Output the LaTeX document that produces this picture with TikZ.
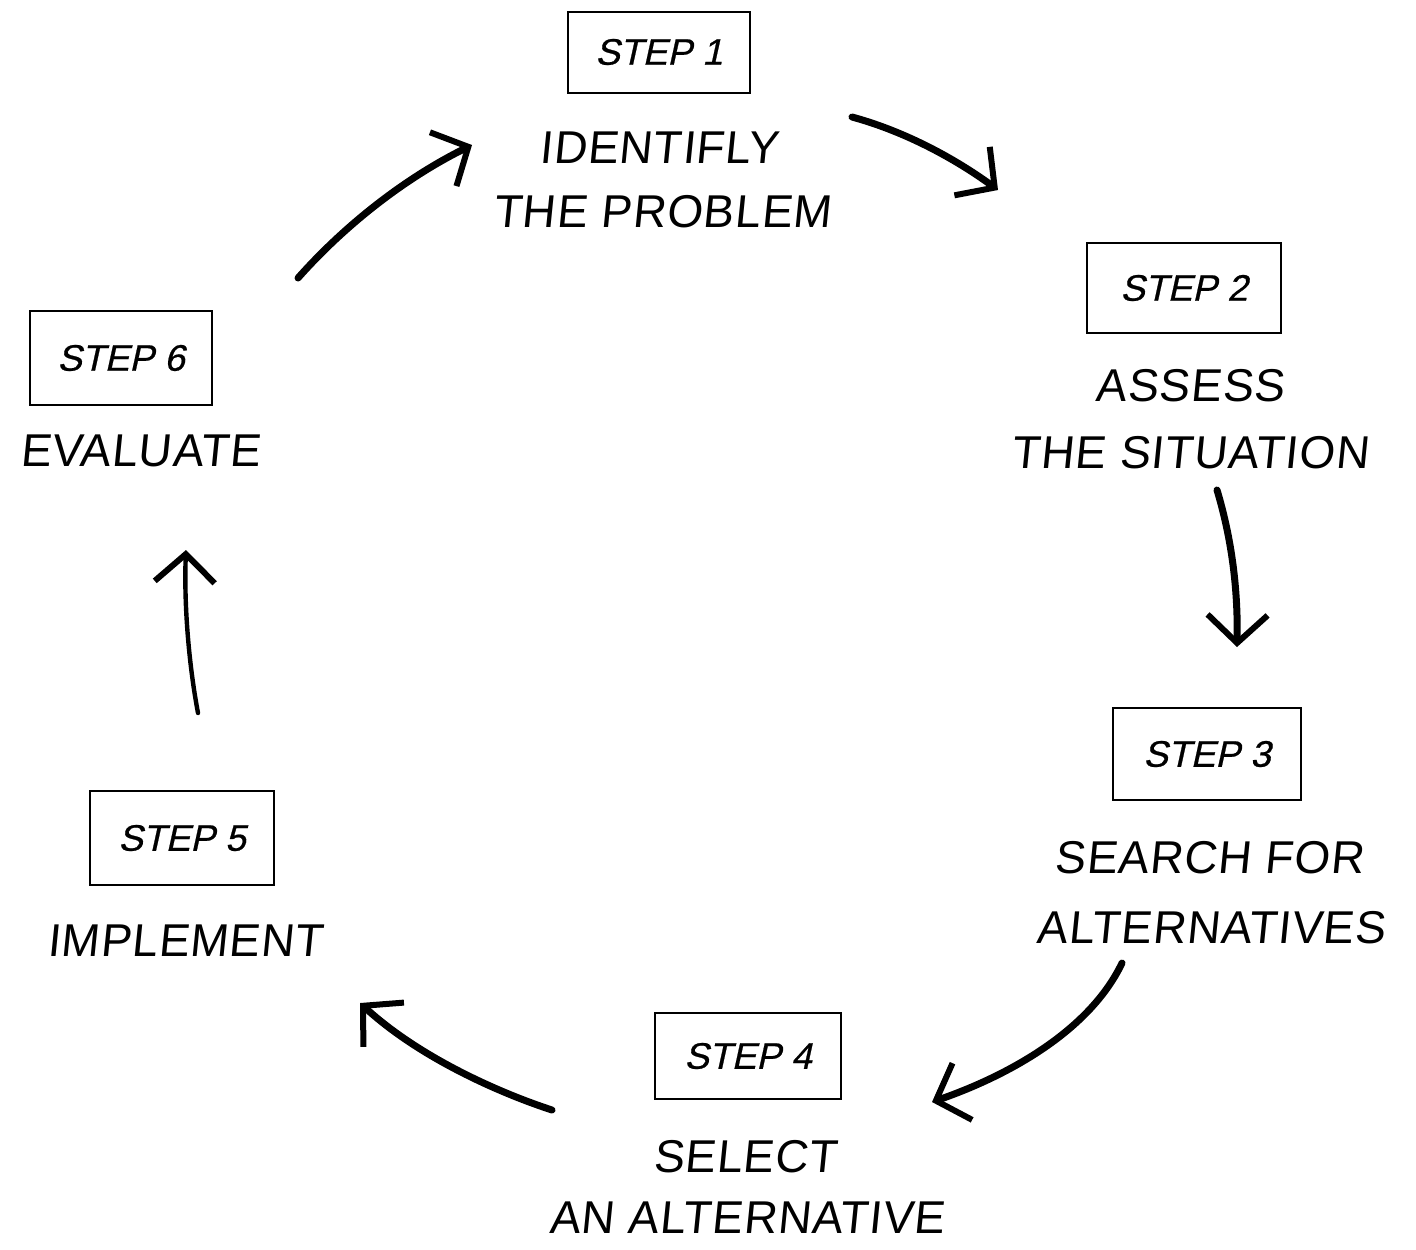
\documentclass[tikz,border=0pt]{standalone}
\usepackage{fontspec}
\setmainfont{Liberation Sans}[FakeSlant=0.1,LetterSpace=2]
\newfontfamily\stepfont{Liberation Sans}[FakeSlant=0.22,FakeBold=0.6]
\usetikzlibrary{arrows.meta}
\begin{document}
\begin{tikzpicture}[x=0.5pt,y=-0.5pt,
  stepbox/.style={draw,line width=1pt,inner sep=0pt,font=\stepfont\fontsize{18.5}{18.5}\selectfont},
  label/.style={inner sep=0pt,font=\fontsize{23}{23}\selectfont},
  hand/.style={line width=3.5pt,line cap=round,-{Straight Barb[length=14pt,width=30pt,line width=3pt]}}]
\useasboundingbox (0,0) rectangle (1416,1249);
% step boxes
\node[stepbox,minimum width=91pt,minimum height=40.5pt] (s1) at (659,52) {STEP 1};
\node[stepbox,minimum width=97pt,minimum height=45pt] (s2) at (1184,288) {STEP 2};
\node[stepbox,minimum width=94pt,minimum height=46pt] (s3) at (1207,754) {STEP 3};
\node[stepbox,minimum width=93pt,minimum height=43pt] (s4) at (748,1056) {STEP 4};
\node[stepbox,minimum width=92pt,minimum height=47pt] (s5) at (182,838) {STEP 5};
\node[stepbox,minimum width=91pt,minimum height=47pt] (s6) at (121,358) {STEP 6};
% labels
\node[label] (l1a) at (659,148) {IDENTIFLY};
\node[label] (l1b) at (662,212) {THE PROBLEM};
\node[label] (l2a) at (1190,386) {ASSESS};
\node[label] (l2b) at (1190,453) {THE SITUATION};
\node[label] (l3a) at (1209,858) {SEARCH FOR};
\node[label] (l3b) at (1211,928) {ALTERNATIVES};
\node[label] (l4a) at (745,1157) {SELECT};
\node[label] (l4b) at (747,1218) {AN ALTERNATIVE};
\node[label] (l5) at (185,941) {IMPLEMENT};
\node[label] (l6) at (140,451) {EVALUATE};
% arrow end points
\coordinate (a1s) at (852,117); \coordinate (a1e) at (998,190);
\coordinate (a2s) at (1217,490); \coordinate (a2e) at (1237,647);
\coordinate (a3s) at (1122,963); \coordinate (a3e) at (932,1102);
\coordinate (a4s) at (552,1110); \coordinate (a4e) at (360,1003);
\coordinate (a5s) at (198,713); \coordinate (a5e) at (186,550);
\coordinate (a6s) at (298,278); \coordinate (a6e) at (472,145);
\draw[hand] (a1s) .. controls (900,130) and (950,155) .. (a1e);
\draw[hand] (a2s) .. controls (1232,540) and (1238,590) .. (a2e);
\draw[hand] (a3s) .. controls (1090,1030) and (1010,1075) .. (a3e);
\draw[hand] (a4s) .. controls (500,1093) and (420,1058) .. (a4e);
\draw[hand,line width=2.2pt] (a5s) .. controls (188,660) and (184,600) .. (a5e);
\draw[hand] (a6s) .. controls (345,225) and (405,178) .. (a6e);
\end{tikzpicture}
\end{document}
